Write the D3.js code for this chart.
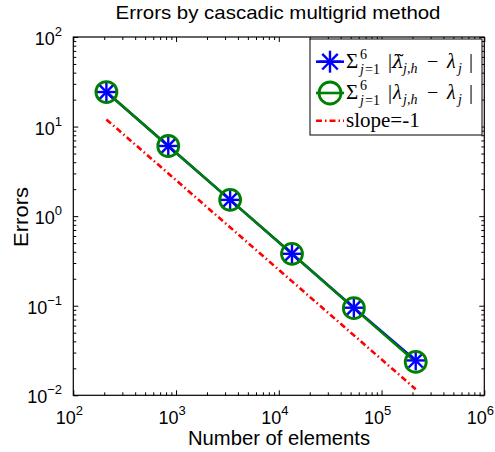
<!DOCTYPE html>
<html><head><meta charset="utf-8">
<script src="https://cdn.jsdelivr.net/npm/d3@7"></script>
<style>body{margin:0;background:#fff}svg{display:block}</style>
</head><body><svg id="c" width="495" height="452"></svg>
<script>
const elements = [210, 840, 3360, 13440, 53760, 215040];
const errTilde = [24.3, 6.07, 1.52, 0.38, 0.095, 0.0245];
const errExact = [24.3, 6.07, 1.52, 0.38, 0.094, 0.0236];
const slopeX = [210, 215040];
const slopeY = [12, 0.0117];
const xTickExps = [2, 3, 4, 5, 6];
const yTickExps = [-2, -1, 0, 1, 2];
const title = "Errors by cascadic multigrid method";
const xLabel = "Number of elements";
const yLabel = "Errors";

const L = 73.3, R = 484.3, T = 37, B = 395.3;
const svg = d3.select("#c");
const x = d3.scaleLog().domain([1e2, 1e6]).range([L, R]);
const y = d3.scaleLog().domain([1e-2, 1e2]).range([B, T]);
const sans = "'Liberation Sans', Arial, sans-serif";
const serif = "'Liberation Serif', 'Times New Roman', serif";

// minor / major ticks on all four sides
const allX = x.ticks(), allY = y.ticks();
const majX = xTickExps.map(e => Math.pow(10, e));
const majY = yTickExps.map(e => Math.pow(10, e));
function isMaj(v){ return Math.abs(Math.log10(v) - Math.round(Math.log10(v))) < 1e-9; }
const minX = allX.filter(v => !isMaj(v)), minY = allY.filter(v => !isMaj(v));
function ax(gen, tx, ty, vals, size){
  const g = svg.append("g").attr("transform", `translate(${tx},${ty})`)
    .call(gen.tickValues(vals).tickSize(size).tickFormat(""));
  g.select(".domain").remove();
  g.selectAll("line").attr("stroke", "#000").attr("stroke-width", 1);
}
ax(d3.axisBottom(x), 0, B, minX, -3); ax(d3.axisBottom(x), 0, B, majX, -5);
ax(d3.axisTop(x), 0, T, minX, -3); ax(d3.axisTop(x), 0, T, majX, -5);
ax(d3.axisLeft(y), L, 0, minY, -3); ax(d3.axisLeft(y), L, 0, majY, -5);
ax(d3.axisRight(y), R, 0, minY, -3); ax(d3.axisRight(y), R, 0, majY, -5);
svg.append("rect").attr("x", L).attr("y", T).attr("width", R - L).attr("height", B - T)
  .attr("fill", "none").attr("stroke", "#000").attr("stroke-width", 1.2);

// tick labels
xTickExps.forEach(e => {
  const t = svg.append("text").attr("x", x(Math.pow(10, e)) - 4).attr("y", 424)
    .attr("font-family", sans).attr("font-size", 18).attr("text-anchor", "middle");
  t.append("tspan").text("10");
  t.append("tspan").attr("dy", -9).attr("font-size", 13).text(e);
});
yTickExps.forEach(e => {
  const t = svg.append("text").attr("x", 62).attr("y", y(Math.pow(10, e)) + 8)
    .attr("font-family", sans).attr("font-size", 18).attr("text-anchor", "end");
  t.append("tspan").text("10");
  t.append("tspan").attr("dy", -9).attr("font-size", 13).text(e < 0 ? "\u2212" + (-e) : e);
});

svg.append("text").attr("x", 278).attr("y", 19).attr("text-anchor", "middle")
  .attr("font-family", sans).attr("font-size", 19)
  .attr("textLength", 325).attr("lengthAdjust", "spacingAndGlyphs").text(title);
svg.append("text").attr("x", 279).attr("y", 445).attr("text-anchor", "middle")
  .attr("font-family", sans).attr("font-size", 20)
  .attr("textLength", 182).attr("lengthAdjust", "spacingAndGlyphs").text(xLabel);
svg.append("text").attr("transform", "translate(28,217) rotate(-90)").attr("text-anchor", "middle")
  .attr("font-family", sans).attr("font-size", 21)
  .attr("textLength", 60).attr("lengthAdjust", "spacingAndGlyphs").text(yLabel);

// data
const line = d3.line().x(d => x(d[0])).y(d => y(d[1]));
const slopePts = slopeX.map((v, i) => [v, slopeY[i]]);
const tildePts = elements.map((v, i) => [v, errTilde[i]]);
const exactPts = elements.map((v, i) => [v, errExact[i]]);
svg.append("path").attr("d", line(slopePts)).attr("fill", "none").attr("stroke", "#ff0000")
  .attr("stroke-width", 2.6).attr("stroke-dasharray", "6,3,1.5,3");
svg.append("path").attr("d", line(tildePts)).attr("fill", "none").attr("stroke", "#0000ff").attr("stroke-width", 2.6);
svg.append("path").attr("d", line(exactPts)).attr("fill", "none").attr("stroke", "#008000").attr("stroke-width", 2.6);

function star(g, cx, cy, r){
  for (let k = 0; k < 4; k++){
    const a = k * Math.PI / 4;
    g.append("line").attr("x1", cx - r * Math.cos(a)).attr("y1", cy - r * Math.sin(a))
      .attr("x2", cx + r * Math.cos(a)).attr("y2", cy + r * Math.sin(a))
      .attr("stroke", "#0000ff").attr("stroke-width", 2.4);
  }
}
function circ(g, cx, cy){
  g.append("circle").attr("cx", cx).attr("cy", cy).attr("r", 10.5)
    .attr("fill", "none").attr("stroke", "#008000").attr("stroke-width", 2.8);
}
const mg = svg.append("g");
tildePts.forEach(d => star(mg, x(d[0]), y(d[1]), 10));
exactPts.forEach(d => circ(mg, x(d[0]), y(d[1])));

// legend
const lg = svg.append("g");
lg.append("rect").attr("x", 310).attr("y", 39).attr("width", 172).attr("height", 96)
  .attr("fill", "#fff").attr("stroke", "#000").attr("stroke-width", 1);
const rows = [61.7, 93, 120.7];
lg.append("line").attr("x1", 316).attr("x2", 344).attr("y1", rows[0]).attr("y2", rows[0])
  .attr("stroke", "#0000ff").attr("stroke-width", 2.6);
star(lg, 330, rows[0], 11);
lg.append("line").attr("x1", 316).attr("x2", 344).attr("y1", rows[1]).attr("y2", rows[1])
  .attr("stroke", "#008000").attr("stroke-width", 2.6);
lg.append("circle").attr("cx", 330).attr("cy", rows[1]).attr("r", 11)
  .attr("fill", "none").attr("stroke", "#008000").attr("stroke-width", 2.8);
lg.append("line").attr("x1", 316).attr("x2", 344).attr("y1", rows[2]).attr("y2", rows[2])
  .attr("stroke", "#ff0000").attr("stroke-width", 2.6).attr("stroke-dasharray", "6,3,1.5,3");

function mathRow(cy, tilde){
  const base = cy + 6;
  const t = lg.append("text").attr("x", 346).attr("y", base)
    .attr("font-family", serif).attr("font-size", 20);
  const sp = (xx, yy, s, sz, it) => t.append("tspan").attr("x", xx).attr("y", yy)
    .attr("font-size", sz).attr("font-style", it ? "italic" : "normal").text(s);
  sp(346, base, "\u03A3", 21, false);
  sp(360, base - 9, "6", 14, false);
  sp(360, base + 6, "j", 14, true);
  sp(365, base + 6, "=1", 14, false);
  sp(388, base, "|", 20, false);
  if (tilde) sp(392, base, "\u03BB\u0303", 19, true).attr("font-family", "'DejaVu Serif', serif");
  else sp(393, base, "\u03BB", 20, true);
  sp(403, base + 5, "j,h", 14, true);
  sp(427, base, "\u2212", 20, false);
  sp(447, base, "\u03BB", 20, true);
  sp(458, base + 5, "j", 14, true);
  sp(469, base, "|", 20, false);
}
mathRow(rows[0], true);
mathRow(rows[1], false);
lg.append("text").attr("x", 346).attr("y", rows[2] + 6).attr("font-family", serif)
  .attr("font-size", 21).text("slope=-1");
</script></body></html>
